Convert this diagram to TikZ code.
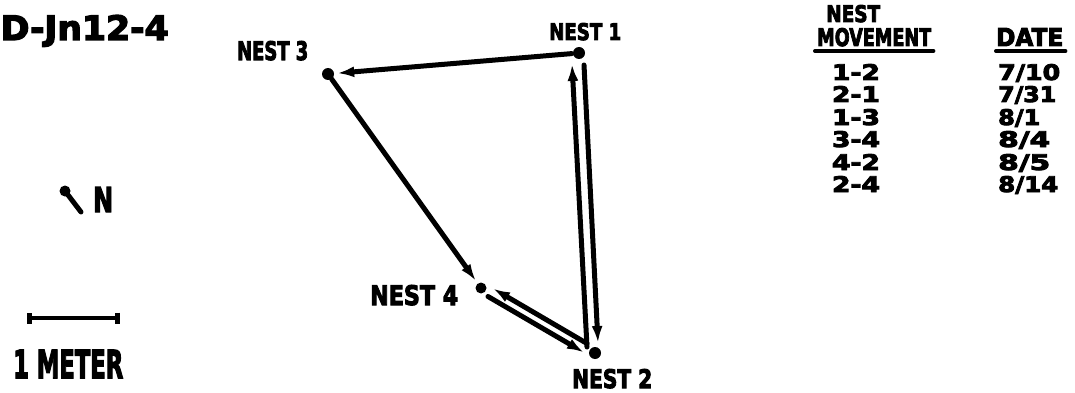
\documentclass[tikz,border=0pt]{standalone}
\usepackage{fontspec}
\usepackage{graphicx}
\setmainfont{DejaVu Sans}[BoldFeatures={FakeBold=4}]
\usetikzlibrary{arrows.meta}
\tikzset{
  lbl/.style={inner sep=0pt, font=\bfseries},
  nest/.style={circle, fill=black, inner sep=0pt, minimum size=12pt},
  mv/.style={line width=5pt, line cap=round, -{Latex[length=17pt,width=11pt]}},
  uline/.style={line width=4pt, line cap=round},
}
\newcommand\fitbox[3]{\resizebox{#1pt}{#2pt}{#3}}
\begin{document}
\begin{tikzpicture}[x=1pt,y=-1pt]
\useasboundingbox (0,0) rectangle (1075,393);
\clip (0,0) rectangle (1075,393);
% title
\node[lbl,anchor=base west] (title) at (0.5,40) {\fitbox{168}{25}{D-Jn12-4}};
% nests
\node[nest] (n1) at (579,53) {};
\node[nest] (n3) at (328,74) {};
\node[nest,minimum size=11pt] (n4) at (481,288) {};
\node[nest] (n2) at (595,353) {};
\node[lbl,anchor=base west] (l3) at (237,60) {\fitbox{71}{19}{NEST 3}};
\node[lbl,anchor=base west] (l1) at (549,40) {\fitbox{72}{17}{NEST 1}};
\node[lbl,anchor=base west] (l4) at (370,305) {\fitbox{88}{20}{NEST 4}};
\node[lbl,anchor=base west] (l2) at (572,388) {\fitbox{80}{19}{NEST 2}};
% movements
\draw[mv, shorten <=1pt, shorten >=3pt] (n1) -- (n3);
\draw[mv, shorten >=3pt] (n3) -- (n4);
\draw[mv] ([shift={(5,12)}]n1.center) -- ([shift={(3,-10)}]n2.center);
\draw[mv] ([shift={(-8,-6)}]n2.center) -- ([shift={(-7,11)}]n1.center);
\draw[mv] ([shift={(7,8.5)}]n4.center) -- ([shift={(-11,-0.5)}]n2.center);
\draw[mv] ([shift={(-8,-9.5)}]n2.center) -- ([shift={(12,0.5)}]n4.center);
% north
\coordinate (nA) at (65,191);
\coordinate (nB) at (81,212);
\draw[line width=5pt, line cap=round] (nA) -- (nB);
\fill (nA) circle (5.5);
\node[lbl,anchor=base west] (north) at (93,212) {\fitbox{20}{25}{N}};
% scale bar
\coordinate (sbL) at (27,318);
\coordinate (sbR) at (120,318);
\draw[line width=4.5pt, {Bar[width=11pt,line width=5pt]}-{Bar[width=11pt,line width=5pt]}] (sbL) -- (sbR);
\node[lbl,anchor=base west] (meter) at (13,378) {\fitbox{110}{28}{1 METER}};
% table
\node[lbl,anchor=base west] (tn) at (826,22) {\fitbox{54}{17}{NEST}};
\node[lbl,anchor=base west] (tm) at (817,46) {\fitbox{114}{18}{MOVEMENT}};
\node[lbl,anchor=base west] (td) at (996,46) {\fitbox{67}{18}{DATE}};
\draw[uline] ([shift={(-2,5)}]tm.base west) -- ([shift={(2,5)}]tm.base east);
\draw[uline] ([shift={(0,5)}]td.base west) -- ([shift={(2,5)}]td.base east);
\foreach \m/\d/\w/\y [count=\i] in {1-2/7\slash10/62/80, 2-1/7\slash31/58/102, 1-3/8\slash1/42/125, 3-4/8\slash4/52/147, 4-2/8\slash5/52/170, 2-4/8\slash14/60/192}{
  \node[lbl,anchor=base] (m\i) at (856,\y) {\fitbox{48}{16}{\m}};
  \node[lbl,anchor=base west] (d\i) at (998,\y) {\fitbox{\w}{16}{\d}};
}
\end{tikzpicture}
\end{document}
